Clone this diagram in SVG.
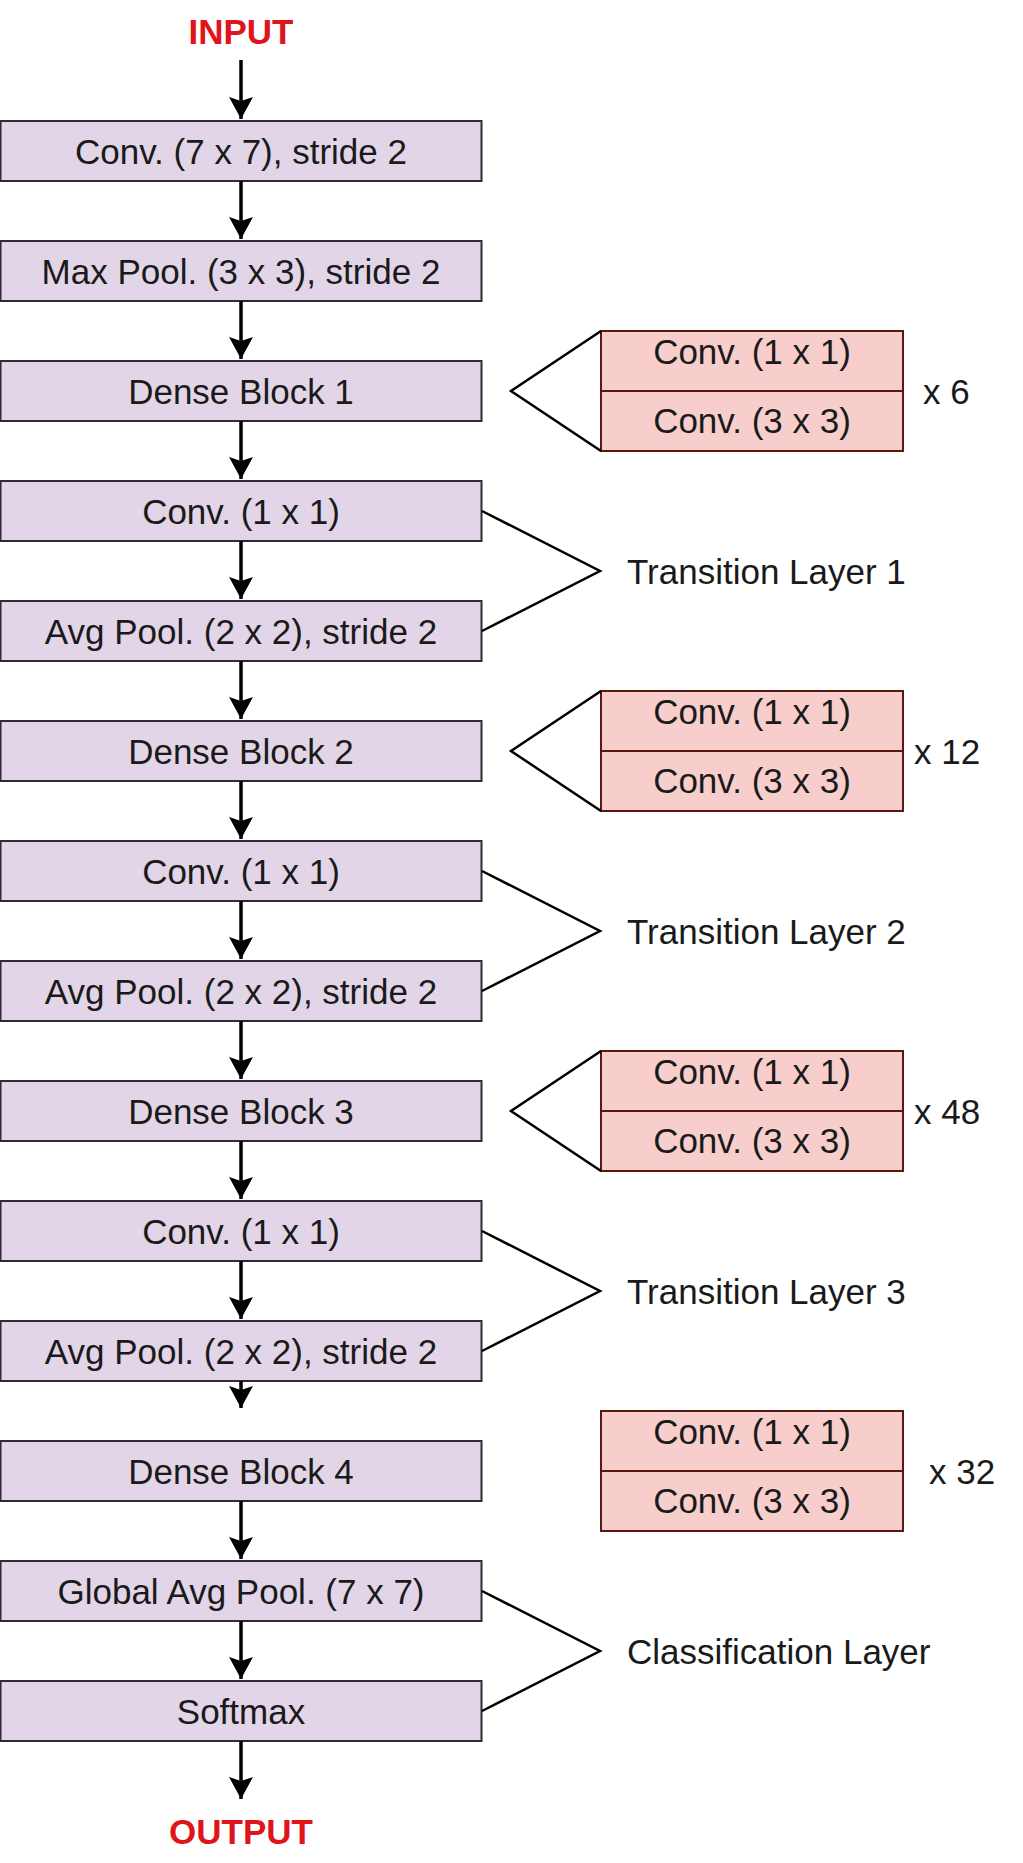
<svg xmlns="http://www.w3.org/2000/svg" width="1023" height="1863" viewBox="0 0 1023 1863">
<style>
.bg{fill:#ffffff}
.box rect{fill:#e1d5e7;stroke:#2e2a38;stroke-width:2}
.pink rect{fill:#f8cecc;stroke:#5a1810;stroke-width:2}
.pink line{stroke:#5a1810;stroke-width:2}
text{font-family:"Liberation Sans",Arial,Helvetica,sans-serif;font-size:35px;fill:#1a1a1a}
.c{text-anchor:middle}
.io{font-weight:bold;fill:#e0151c}
.arrow{stroke:#000;stroke-width:3.5;fill:none}
.br{stroke:#000;stroke-width:2.5;fill:none;stroke-linejoin:miter}
</style>
<defs>
<marker id="ah" viewBox="0 0 22 24" refX="22" refY="12" markerWidth="22" markerHeight="24" markerUnits="userSpaceOnUse" orient="auto">
<path d="M0,0 L22,12 L0,24 L4,12 z" fill="#000"/>
</marker>
</defs>
<rect class="bg" x="0" y="0" width="1023" height="1863"/>

<g id="input"><text class="io c" x="241" y="44">INPUT</text></g>

<g id="n0" class="box"><rect x="0.5" y="121" width="481" height="60"/><text class="c" x="241" y="164">Conv. (7 x 7), stride 2</text></g>
<g id="n1" class="box"><rect x="0.5" y="241" width="481" height="60"/><text class="c" x="241" y="284">Max Pool. (3 x 3), stride 2</text></g>
<g id="n2" class="box"><rect x="0.5" y="361" width="481" height="60"/><text class="c" x="241" y="404">Dense Block 1</text></g>
<g id="n3" class="box"><rect x="0.5" y="481" width="481" height="60"/><text class="c" x="241" y="524">Conv. (1 x 1)</text></g>
<g id="n4" class="box"><rect x="0.5" y="601" width="481" height="60"/><text class="c" x="241" y="644">Avg Pool. (2 x 2), stride 2</text></g>
<g id="n5" class="box"><rect x="0.5" y="721" width="481" height="60"/><text class="c" x="241" y="764">Dense Block 2</text></g>
<g id="n6" class="box"><rect x="0.5" y="841" width="481" height="60"/><text class="c" x="241" y="884">Conv. (1 x 1)</text></g>
<g id="n7" class="box"><rect x="0.5" y="961" width="481" height="60"/><text class="c" x="241" y="1004">Avg Pool. (2 x 2), stride 2</text></g>
<g id="n8" class="box"><rect x="0.5" y="1081" width="481" height="60"/><text class="c" x="241" y="1124">Dense Block 3</text></g>
<g id="n9" class="box"><rect x="0.5" y="1201" width="481" height="60"/><text class="c" x="241" y="1244">Conv. (1 x 1)</text></g>
<g id="n10" class="box"><rect x="0.5" y="1321" width="481" height="60"/><text class="c" x="241" y="1364">Avg Pool. (2 x 2), stride 2</text></g>
<g id="n11" class="box"><rect x="0.5" y="1441" width="481" height="60"/><text class="c" x="241" y="1484">Dense Block 4</text></g>
<g id="n12" class="box"><rect x="0.5" y="1561" width="481" height="60"/><text class="c" x="241" y="1604">Global Avg Pool. (7 x 7)</text></g>
<g id="n13" class="box"><rect x="0.5" y="1681" width="481" height="60"/><text class="c" x="241" y="1724">Softmax</text></g>

<g id="output"><text class="io c" x="241" y="1844">OUTPUT</text></g>

<g id="dense1" class="pink"><rect x="601" y="331" width="302" height="120"/><line x1="601" y1="391" x2="903" y2="391"/><text class="c" x="752" y="364">Conv. (1 x 1)</text><text class="c" x="752" y="433">Conv. (3 x 3)</text></g>
<g id="dense2" class="pink"><rect x="601" y="691" width="302" height="120"/><line x1="601" y1="751" x2="903" y2="751"/><text class="c" x="752" y="724">Conv. (1 x 1)</text><text class="c" x="752" y="793">Conv. (3 x 3)</text></g>
<g id="dense3" class="pink"><rect x="601" y="1051" width="302" height="120"/><line x1="601" y1="1111" x2="903" y2="1111"/><text class="c" x="752" y="1084">Conv. (1 x 1)</text><text class="c" x="752" y="1153">Conv. (3 x 3)</text></g>
<g id="dense4" class="pink"><rect x="601" y="1411" width="302" height="120"/><line x1="601" y1="1471" x2="903" y2="1471"/><text class="c" x="752" y="1444">Conv. (1 x 1)</text><text class="c" x="752" y="1513">Conv. (3 x 3)</text></g>

<g id="labels">
<text x="923" y="404">x 6</text>
<text x="914" y="764">x 12</text>
<text x="914" y="1124">x 48</text>
<text x="929" y="1484">x 32</text>
<text x="627" y="584">Transition Layer 1</text>
<text x="627" y="944">Transition Layer 2</text>
<text x="627" y="1304">Transition Layer 3</text>
<text x="627" y="1664">Classification Layer</text>
</g>

<g id="connectors">
<line class="arrow" x1="241" y1="60" x2="241" y2="119" marker-end="url(#ah)"/>
<line class="arrow" x1="241" y1="181" x2="241" y2="239" marker-end="url(#ah)"/>
<line class="arrow" x1="241" y1="301" x2="241" y2="359" marker-end="url(#ah)"/>
<line class="arrow" x1="241" y1="421" x2="241" y2="479" marker-end="url(#ah)"/>
<line class="arrow" x1="241" y1="541" x2="241" y2="599" marker-end="url(#ah)"/>
<line class="arrow" x1="241" y1="661" x2="241" y2="719" marker-end="url(#ah)"/>
<line class="arrow" x1="241" y1="781" x2="241" y2="839" marker-end="url(#ah)"/>
<line class="arrow" x1="241" y1="901" x2="241" y2="959" marker-end="url(#ah)"/>
<line class="arrow" x1="241" y1="1021" x2="241" y2="1079" marker-end="url(#ah)"/>
<line class="arrow" x1="241" y1="1141" x2="241" y2="1199" marker-end="url(#ah)"/>
<line class="arrow" x1="241" y1="1261" x2="241" y2="1319" marker-end="url(#ah)"/>
<line class="arrow" x1="241" y1="1381" x2="241" y2="1408" marker-end="url(#ah)"/>
<line class="arrow" x1="241" y1="1501" x2="241" y2="1559" marker-end="url(#ah)"/>
<line class="arrow" x1="241" y1="1621" x2="241" y2="1679" marker-end="url(#ah)"/>
<line class="arrow" x1="241" y1="1741" x2="241" y2="1799" marker-end="url(#ah)"/>
<polyline class="br" points="601,331 511,391 601,451"/>
<polyline class="br" points="601,691 511,751 601,811"/>
<polyline class="br" points="601,1051 511,1111 601,1171"/>
<polyline class="br" points="482,511 600,571 482,631"/>
<polyline class="br" points="482,871 600,931 482,991"/>
<polyline class="br" points="482,1231 600,1291 482,1351"/>
<polyline class="br" points="482,1591 600,1651 482,1711"/>
</g>
</svg>
